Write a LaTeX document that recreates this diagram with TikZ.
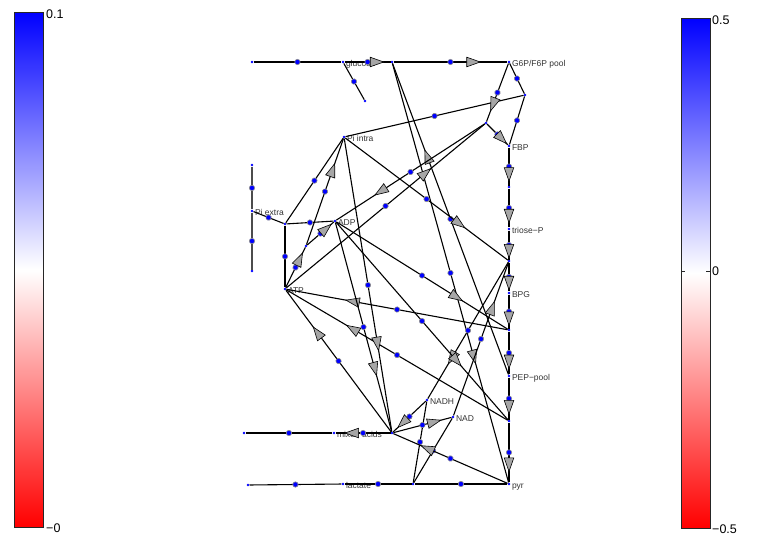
\documentclass[tikz,border=0pt]{standalone}
\usepackage{fontspec}
\setmainfont{Liberation Sans}
\usetikzlibrary{decorations.markings}

\begin{document}
\begin{tikzpicture}[
  x=1pt, y=-1pt,
  met/.style={circle, fill=blue, inner sep=0pt, minimum size=2.8pt},
  rxn/.style={circle, fill=blue, inner sep=0pt, minimum size=2.6pt},
  lbl/.style={font=\fontsize{8.5}{10}\selectfont, text=black!80,
    inner sep=1.2pt, text height=6pt, text depth=1.8pt, yshift=-2pt},
  flux/.style={draw=black, line width=1.1pt, postaction={decorate,
    decoration={markings, mark=at position 0.5 with
      {\filldraw[fill=blue, draw=black!45, line width=0.6pt] (0,0) circle (2.7pt);}}}},
  oneway/.style={flux, postaction={decorate,
    decoration={markings, mark=at position 0.7 with
      {\filldraw[fill=black!35, draw=black, line width=0.6pt]
        (7pt,0) -- (-6.5pt,4.8pt) -- (-6.5pt,-4.8pt) -- cycle;}}}},
  pipe/.style={flux, draw=black!70, line width=1.9pt},
  cbar/.style={draw=black!85, line width=0.8pt},
  barlbl/.style={font=\fontsize{12.5}{14}\selectfont, anchor=west, inner sep=1pt},
]
\useasboundingbox (0,0) rectangle (757,538);

%% Colour bars
\shade[top color=blue, bottom color=red, middle color=white] (14,12) rectangle (43,527);
\draw[cbar] (14,12) rectangle (43,527);
\node[barlbl] (lmax) at (45,14) {0.1};
\node[barlbl] (lmin) at (45,528) {−0};

\shade[top color=blue, bottom color=red, middle color=white] (681,18) rectangle (710,528);
\draw[cbar] (681,18) rectangle (710,528);
\draw[cbar] (681,271) -- (685,271) (706,271) -- (710,271);
\node[barlbl] (rmax) at (711,20) {0.5};
\node[barlbl] (rmid) at (711,271) {0};
\node[barlbl] (rmin) at (711,529) {−0.5};

%% Metabolites
\node[met, label={[lbl]right:glucose}] (glc) at (343,62) {};
\node[met, label={[lbl]right:G6P/F6P pool}] (g6p) at (509,62) {};
\node[met, label={[lbl]right:FBP}] (fbp) at (509,146) {};
\node[met, label={[lbl]right:triose−P}] (trip) at (509,229) {};
\node[met, label={[lbl]right:BPG}] (bpg) at (509,293) {};
\node[met, label={[lbl]right:PEP−pool}] (pep) at (509,376) {};
\node[met, label={[lbl]right:pyr}] (pyr) at (509,484) {};
\node[met, label={[lbl]right:lactate}] (lac) at (343,484) {};
\node[met, label={[lbl]right:mixed acids}] (mixac) at (334,433) {};
\node[met, label={[lbl]right:NADH}] (nadh) at (427,400) {};
\node[met, label={[lbl]right:NAD}] (nad) at (453,417) {};
\node[met, label={[lbl]right:ATP}] (atp) at (285,289) {};
\node[met, label={[lbl]right:ADP}] (adp) at (335,221) {};
\node[met, label={[lbl]right:Pi intra}] (piin) at (344,137) {};
\node[met, label={[lbl]right:Pi extra}] (piex) at (252,211) {};

%% Reactions
\node[rxn] (vglcin) at (252,62) {};
\node[rxn] (vglcout) at (365,101) {};
\node[rxn] (vpts) at (392,62) {};
\node[rxn] (vpfk) at (486,123) {};
\node[rxn] (vfbp) at (525,95) {};
\node[rxn] (vald) at (509,187) {};
\node[rxn] (vgap) at (509,261) {};
\node[rxn] (vpgk) at (509,330) {};
\node[rxn] (vpk) at (509,421) {};
\node[rxn] (vldh) at (413,484) {};
\node[rxn] (vlacex) at (248,485) {};
\node[rxn] (vmixex) at (244,433) {};
\node[rxn] (vmix) at (392,433) {};
\node[rxn] (vpiup) at (252,165) {};
\node[rxn] (vpidn) at (252,271) {};
\node[rxn] (vpit) at (285,224) {};
\node[rxn] (vatpase) at (306,246) {};

%% Fluxes without direction
\draw[flux] (vglcin) -- (glc);
\draw[flux] (glc) -- (vglcout);
\draw[flux] (g6p) -- (vfbp);
\draw[flux] (vfbp) -- (fbp);
\draw[flux] (vfbp) -- (piin);
\draw[pipe] (vpiup) -- (piex);
\draw[pipe] (piex) -- (vpidn);
\draw[flux] (piex) -- (vpit);
\draw[flux] (vpit) -- (adp);
\draw[flux] (vpit) -- (atp);
\draw[flux] (vpit) -- (piin);
\draw[flux] (pyr) -- (vldh);
\draw[flux] (vldh) -- (lac);
\draw[flux] (nadh) -- (vldh);
\draw[flux] (nad) -- (vldh);
\draw[flux] (lac) -- (vlacex);
\draw[flux] (mixac) -- (vmixex);

%% Directed fluxes
\draw[oneway] (glc) -- (vpts);
\draw[oneway] (vpts) -- (g6p);
\draw[oneway] (pep) -- (vpts);
\draw[oneway] (vpts) -- (pyr);
\draw[oneway] (g6p) -- (vpfk);
\draw[oneway] (vpfk) -- (fbp);
\draw[oneway] (atp) -- (vpfk);
\draw[oneway] (vpfk) -- (adp);
\draw[oneway] (fbp) -- (vald);
\draw[oneway] (vald) -- (trip);
\draw[oneway] (trip) -- (vgap);
\draw[oneway] (vgap) -- (bpg);
\draw[oneway] (piin) -- (vgap);
\draw[oneway] (nad) -- (vgap);
\draw[oneway] (vgap) -- (nadh);
\draw[oneway] (bpg) -- (vpgk);
\draw[oneway] (vpgk) -- (pep);
\draw[oneway] (adp) -- (vpgk);
\draw[oneway] (vpgk) -- (atp);
\draw[oneway] (pep) -- (vpk);
\draw[oneway] (vpk) -- (pyr);
\draw[oneway] (adp) -- (vpk);
\draw[oneway] (vpk) -- (atp);
\draw[oneway] (vmix) -- (mixac);
\draw[oneway] (pyr) -- (vmix);
\draw[oneway] (nadh) -- (vmix);
\draw[oneway] (vmix) -- (nad);
\draw[oneway] (adp) -- (vmix);
\draw[oneway] (piin) -- (vmix);
\draw[oneway] (vmix) -- (atp);
\draw[oneway] (atp) -- (vatpase);
\draw[oneway] (vatpase) -- (adp);
\draw[oneway] (vatpase) -- (piin);

\end{tikzpicture}
\end{document}
